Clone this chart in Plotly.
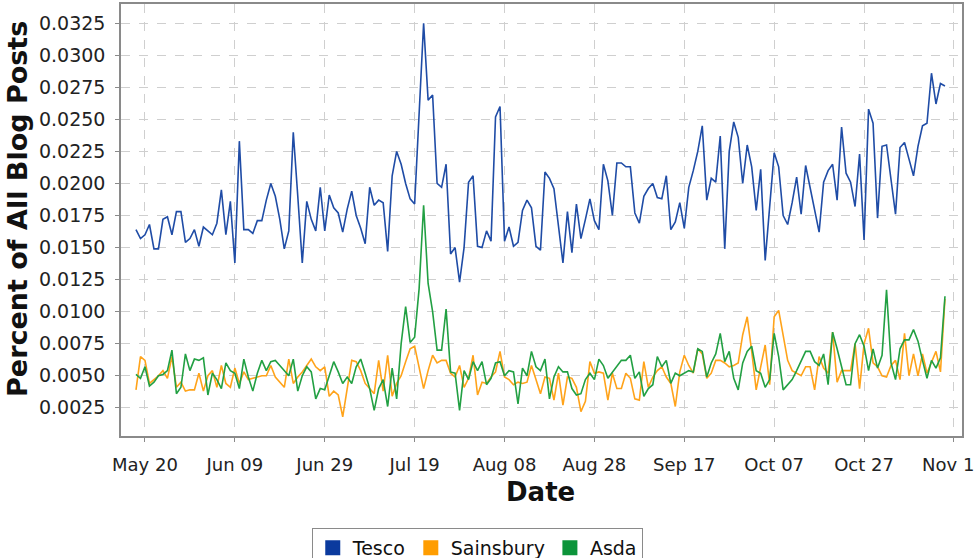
import pandas as pd
import plotly.graph_objects as go

start_date = "2008-05-18"
n_days = 181

tesco = [
    0.0164, 0.0157, 0.0160, 0.0168, 0.0149, 0.0149, 0.0172, 0.0174, 0.0160, 0.0178,
    0.0178, 0.0154, 0.0157, 0.0164, 0.0151, 0.0166, 0.0163, 0.0160, 0.0169, 0.0195,
    0.0160, 0.0186, 0.0138, 0.0233, 0.0164, 0.0164, 0.0161, 0.0171, 0.0171, 0.0187,
    0.0200, 0.0190, 0.0172, 0.0149, 0.0163, 0.0240, 0.0190, 0.0138, 0.0186, 0.0172,
    0.0163, 0.0197, 0.0163, 0.0191, 0.0181, 0.0177, 0.0162, 0.0180, 0.0194, 0.0175,
    0.0165, 0.0153, 0.0197, 0.0183, 0.0187, 0.0185, 0.0147, 0.0206, 0.0225, 0.0215,
    0.0200, 0.0188, 0.0184, 0.0250, 0.0325, 0.0265, 0.0269, 0.0200, 0.0197, 0.0215,
    0.0145, 0.0150, 0.0123, 0.0150, 0.0201, 0.0206, 0.0151, 0.0150, 0.0163, 0.0155,
    0.0252, 0.0260, 0.0155, 0.0166, 0.0151, 0.0154, 0.0179, 0.0187, 0.0181, 0.0151,
    0.0148, 0.0209, 0.0204, 0.0196, 0.0167, 0.0138, 0.0178, 0.0146, 0.0184, 0.0157,
    0.0172, 0.0188, 0.0171, 0.0164, 0.0215, 0.0202, 0.0175, 0.0216, 0.0216, 0.0213,
    0.0213, 0.0177, 0.0169, 0.0190, 0.0196, 0.0200, 0.0189, 0.0188, 0.0206, 0.0164,
    0.0170, 0.0185, 0.0165, 0.0197, 0.0210, 0.0225, 0.0245, 0.0187, 0.0204, 0.0201,
    0.0237, 0.0149, 0.0225, 0.0248, 0.0236, 0.0200, 0.0230, 0.0213, 0.0179, 0.0211,
    0.0140, 0.0185, 0.0224, 0.0213, 0.0175, 0.0168, 0.0185, 0.0205, 0.0176, 0.0214,
    0.0197, 0.0180, 0.0162, 0.0201, 0.0210, 0.0215, 0.0187, 0.0244, 0.0208, 0.0201,
    0.0182, 0.0223, 0.0156, 0.0258, 0.0247, 0.0173, 0.0229, 0.0230, 0.0205, 0.0176,
    0.0228, 0.0232, 0.0219, 0.0206, 0.0229, 0.0245, 0.0247, 0.0286, 0.0262, 0.0278,
    0.0276,
]

sainsbury = [
    0.0039, 0.0065, 0.0062, 0.0044, 0.0047, 0.0050, 0.0054, 0.0048, 0.0065, 0.0041,
    0.0045, 0.0038, 0.0039, 0.0039, 0.0052, 0.0038, 0.0050, 0.0054, 0.0041, 0.0058,
    0.0044, 0.0041, 0.0056, 0.0044, 0.0053, 0.0047, 0.0048, 0.0049, 0.0050, 0.0050,
    0.0058, 0.0049, 0.0045, 0.0041, 0.0063, 0.0044, 0.0049, 0.0053, 0.0058, 0.0063,
    0.0057, 0.0054, 0.0057, 0.0034, 0.0038, 0.0035, 0.0018, 0.0041, 0.0062, 0.0061,
    0.0054, 0.0044, 0.0040, 0.0036, 0.0062, 0.0038, 0.0066, 0.0034, 0.0044, 0.0050,
    0.0061, 0.0071, 0.0073, 0.0055, 0.0040, 0.0054, 0.0066, 0.0060, 0.0062, 0.0062,
    0.0052, 0.0049, 0.0058, 0.0041, 0.0048, 0.0066, 0.0035, 0.0045, 0.0044, 0.0049,
    0.0053, 0.0069, 0.0049, 0.0047, 0.0043, 0.0045, 0.0044, 0.0045, 0.0058, 0.0047,
    0.0036, 0.0049, 0.0048, 0.0031, 0.0052, 0.0027, 0.0049, 0.0048, 0.0041, 0.0022,
    0.0030, 0.0061, 0.0052, 0.0053, 0.0052, 0.0031, 0.0052, 0.0040, 0.0040, 0.0052,
    0.0048, 0.0032, 0.0031, 0.0061, 0.0041, 0.0049, 0.0054, 0.0057, 0.0049, 0.0044,
    0.0026, 0.0053, 0.0066, 0.0058, 0.0052, 0.0071, 0.0067, 0.0048, 0.0052, 0.0062,
    0.0062, 0.0060, 0.0057, 0.0058, 0.0060, 0.0082, 0.0096, 0.0069, 0.0039, 0.0057,
    0.0074, 0.0043, 0.0096, 0.0101, 0.0082, 0.0062, 0.0054, 0.0052, 0.0050, 0.0057,
    0.0057, 0.0039, 0.0065, 0.0056, 0.0052, 0.0084, 0.0045, 0.0054, 0.0054, 0.0054,
    0.0075, 0.0040, 0.0075, 0.0087, 0.0060, 0.0057, 0.0050, 0.0049, 0.0058, 0.0062,
    0.0047, 0.0083, 0.0050, 0.0067, 0.0050, 0.0067, 0.0052, 0.0060, 0.0069, 0.0053,
    0.0110,
]

asda = [
    0.0051, 0.0048, 0.0057, 0.0042, 0.0045, 0.0050, 0.0051, 0.0054, 0.0070, 0.0036,
    0.0041, 0.0067, 0.0054, 0.0063, 0.0062, 0.0064, 0.0035, 0.0052, 0.0047, 0.0040,
    0.0060, 0.0054, 0.0052, 0.0040, 0.0063, 0.0049, 0.0038, 0.0052, 0.0062, 0.0054,
    0.0061, 0.0062, 0.0058, 0.0054, 0.0050, 0.0063, 0.0038, 0.0050, 0.0057, 0.0053,
    0.0032, 0.0040, 0.0039, 0.0050, 0.0061, 0.0053, 0.0044, 0.0049, 0.0044, 0.0057,
    0.0063, 0.0052, 0.0040, 0.0023, 0.0040, 0.0047, 0.0026, 0.0056, 0.0032, 0.0075,
    0.0104, 0.0076, 0.0080, 0.0118, 0.0183, 0.0122, 0.0100, 0.0070, 0.0070, 0.0102,
    0.0053, 0.0052, 0.0023, 0.0054, 0.0047, 0.0061, 0.0054, 0.0061, 0.0043, 0.0048,
    0.0060, 0.0061, 0.0050, 0.0054, 0.0053, 0.0028, 0.0056, 0.0050, 0.0069, 0.0057,
    0.0054, 0.0063, 0.0032, 0.0049, 0.0057, 0.0053, 0.0053, 0.0040, 0.0035, 0.0036,
    0.0047, 0.0052, 0.0047, 0.0063, 0.0058, 0.0048, 0.0053, 0.0058, 0.0062, 0.0062,
    0.0066, 0.0048, 0.0053, 0.0034, 0.0040, 0.0043, 0.0065, 0.0057, 0.0062, 0.0044,
    0.0052, 0.0050, 0.0052, 0.0054, 0.0053, 0.0071, 0.0069, 0.0049, 0.0060, 0.0067,
    0.0083, 0.0061, 0.0069, 0.0048, 0.0039, 0.0060, 0.0069, 0.0073, 0.0054, 0.0052,
    0.0041, 0.0047, 0.0083, 0.0065, 0.0039, 0.0043, 0.0047, 0.0054, 0.0062, 0.0069,
    0.0069, 0.0061, 0.0058, 0.0067, 0.0043, 0.0084, 0.0071, 0.0057, 0.0043, 0.0043,
    0.0075, 0.0082, 0.0073, 0.0054, 0.0071, 0.0056, 0.0066, 0.0117, 0.0060, 0.0047,
    0.0071, 0.0078, 0.0078, 0.0086, 0.0077, 0.0062, 0.0048, 0.0062, 0.0056, 0.0064,
    0.0112,
]

series_names = ["Tesco", "Sainsbury", "Asda"]
line_colors = ["#1f4ca6", "#ffa31a", "#22a043"]
legend_colors = ["#0b3a9e", "#ff9d00", "#0c943a"]

tick_dates = ["2008-05-20", "2008-06-09", "2008-06-29", "2008-07-19", "2008-08-08",
              "2008-08-28", "2008-09-17", "2008-10-07", "2008-10-27", "2008-11-16"]
tick_labels = ["May 20", "Jun 09", "Jun 29", "Jul 19", "Aug 08",
               "Aug 28", "Sep 17", "Oct 07", "Oct 27", "Nov 16"]
y_ticks = [0.0025, 0.0050, 0.0075, 0.0100, 0.0125, 0.0150, 0.0175,
           0.0200, 0.0225, 0.0250, 0.0275, 0.0300, 0.0325]
x_title = "Date"
y_title = "Percent of All Blog Posts"

dates = pd.date_range(start_date, periods=n_days, freq="D")
assert len(tesco) == len(sainsbury) == len(asda) == n_days

FONT = "DejaVu Sans"
fig = go.Figure()
for name, vals, lc in zip(series_names, [tesco, sainsbury, asda], line_colors):
    fig.add_trace(go.Scatter(x=dates, y=vals, mode="lines", name=name,
                             line=dict(color=lc, width=1.6), showlegend=False))
for name, c in zip(series_names, legend_colors):
    fig.add_trace(go.Scatter(x=[None], y=[None], mode="markers", name=name,
                             marker=dict(symbol="square", size=15, color=c)))

grid = dict(showgrid=True, gridcolor="#cfcfcf", griddash="dash", gridwidth=1,
            showline=True, linecolor="#8a8a8a", linewidth=1.5, mirror=True,
            ticks="outside", ticklen=4, tickcolor="#8a8a8a", zeroline=False,
            ticklabeloverflow="allow")

fig.update_layout(
    width=974, height=558,
    margin=dict(l=121, r=12, t=4, b=122),
    paper_bgcolor="white", plot_bgcolor="white",
    xaxis=dict(range=["2008-05-14 16:00", "2008-11-17 19:00"],
               tickvals=tick_dates, ticktext=tick_labels,
               ticklabelstandoff=8,
               tickfont=dict(family=FONT, size=18, color="#222222"), **grid),
    yaxis=dict(range=[0.0003, 0.0340], tickvals=y_ticks, tickformat=".4f",
               ticklabelstandoff=6,
               tickfont=dict(family=FONT, size=19, color="#222222"), **grid),
    legend=dict(orientation="h", xref="container", yref="container",
                x=0.49, xanchor="center", y=0.054, yanchor="top",
                bordercolor="#8a8a8a", borderwidth=1, bgcolor="white",
                font=dict(family=FONT, size=19, color="#111111"),
                itemwidth=30, tracegroupgap=0),
    annotations=[
        dict(text="<b>" + x_title + "</b>", xref="paper", yref="paper",
             x=0.4994, y=-0.1296, xanchor="center", yanchor="middle",
             showarrow=False, font=dict(family=FONT, size=26, color="#111111")),
        dict(text="<b>" + y_title + "</b>", xref="paper", yref="paper",
             x=-0.1225, y=0.5255, xanchor="center", yanchor="middle",
             textangle=-90, showarrow=False,
             font=dict(family=FONT, size=27, color="#111111")),
    ],
)
fig.update_xaxes(automargin=False)
fig.update_yaxes(automargin=False)

fig.write_html("out.html", config={"displayModeBar": False},
               post_script="document.body.style.margin='0';document.body.style.overflow='hidden';")
